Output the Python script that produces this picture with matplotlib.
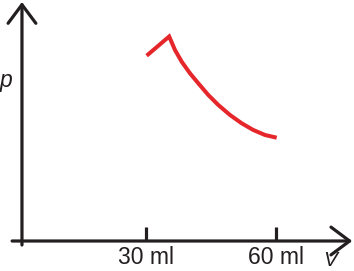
import matplotlib
matplotlib.use('Agg')
import matplotlib.pyplot as plt

# volume (ml) and pressure (arbitrary units)
volume = [30.15, 35.35, 36.69, 38.24, 40.15, 42.07, 44.38, 46.69,
          49.39, 52.09, 54.76, 57.46, 60.16]
pressure = [185.3, 204.5, 191, 179.3, 167.7, 157.7, 146, 136,
            126, 117.7, 111, 106, 103.3]
tick_positions = [30, 60]
tick_labels = ['30 ml', '60 ml']

AXIS_V = 1.38
RED = '#e5262b'
BLACK = '#231f20'

plt.rcParams['font.family'] = ['Liberation Sans', 'DejaVu Sans']

fig = plt.figure(figsize=(3.54, 2.71), dpi=100)
ax = fig.add_axes([0, 0, 1, 1])
ax.set_xlim(-3.69, 78.0)
ax.set_ylim(-30, 241)
ax.axis('off')

arrow = dict(arrowstyle='->,head_length=0.67,head_width=0.5',
             lw=2.3, color=BLACK, mutation_scale=20, shrinkA=0, shrinkB=0)
ax.annotate('', xy=(AXIS_V, 239), xytext=(AXIS_V, -4), arrowprops=arrow)
ax.annotate('', xy=(77.6, 0), xytext=(-0.9, 0), arrowprops=arrow)

for pos, lab in zip(tick_positions, tick_labels):
    ax.plot([pos, pos], [0, 14], color=BLACK, lw=2.3, solid_capstyle='butt')
    ax.text(pos, -16.5, lab, ha='center', va='center', fontsize=16.5,
            color=BLACK)

ax.text(-2.3, 161, 'p', style='italic', fontsize=16.5, ha='center',
        va='center', color=BLACK)
ax.text(72.6, -20, 'V', style='italic', fontsize=15, ha='center',
        va='center', color=BLACK)

ax.plot(volume, pressure, color=RED, lw=2.9, solid_joinstyle='miter',
        solid_capstyle='butt')

fig.savefig('out.png', dpi=100)
